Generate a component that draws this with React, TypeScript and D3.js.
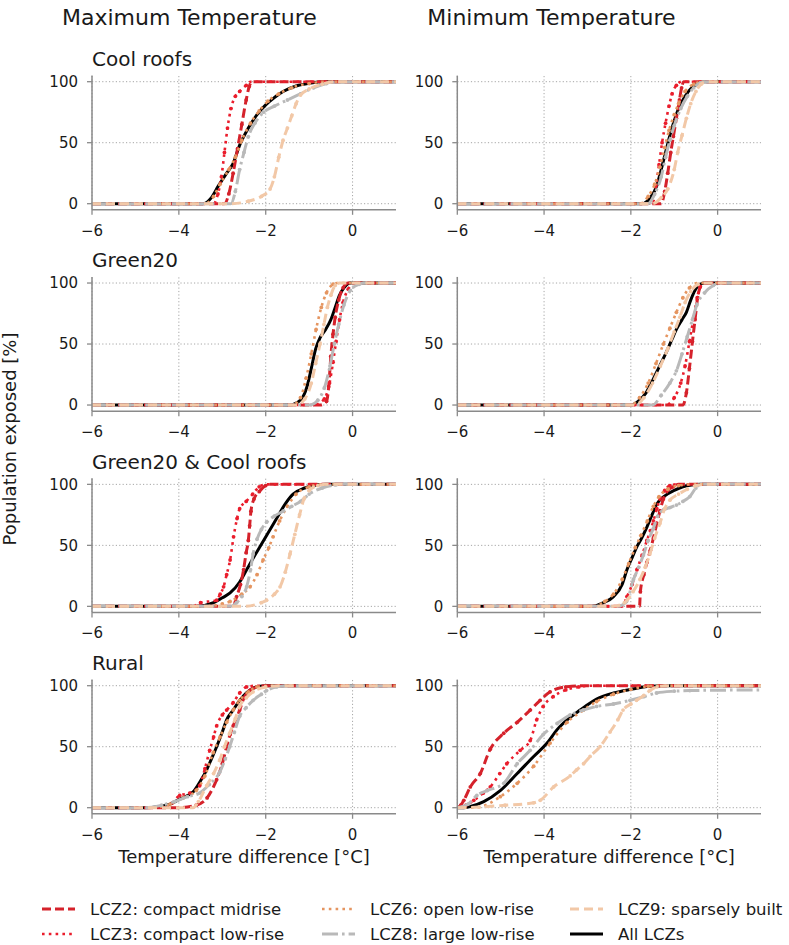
import React, { useEffect, useRef } from "react";
import * as d3 from "d3";

type Pt = [number, number];

// scenario rows and temperature columns
const scenarios = ["Cool roofs", "Green20", "Green20 & Cool roofs", "Rural"];
const columns = ["Maximum Temperature", "Minimum Temperature"];
const xTicks = [-6, -4, -2, 0];
const yTicks = [0, 50, 100];

const seriesKeys = ["all", "lcz2", "lcz3", "lcz6", "lcz8", "lcz9"];
const seriesLabels: Record<string, string> = {
  lcz2: "LCZ2: compact midrise",
  lcz3: "LCZ3: compact low-rise",
  lcz6: "LCZ6: open low-rise",
  lcz8: "LCZ8: large low-rise",
  lcz9: "LCZ9: sparsely built",
  all: "All LCZs",
};
const legendOrder = ["lcz2", "lcz3", "lcz6", "lcz8", "lcz9", "all"];

// cumulative population exposed [%] vs temperature difference [°C]
const coolMax: Record<string, Pt[]> = {
  all: [[-6, 0], [-3.45, 0], [-3.25, 5], [-3.1, 14], [-2.9, 25], [-2.75, 33], [-2.6, 48], [-2.4, 62], [-2.2, 73], [-2.0, 81], [-1.8, 87], [-1.6, 92], [-1.3, 96.5], [-1.0, 98.8], [-0.6, 100], [1, 100]],
  lcz2: [[-6, 0], [-2.95, 0], [-2.85, 8], [-2.75, 25], [-2.65, 45], [-2.55, 65], [-2.45, 85], [-2.38, 96], [-2.32, 100], [1, 100]],
  lcz3: [[-6, 0], [-3.2, 0], [-3.1, 8], [-3.02, 22], [-2.95, 42], [-2.88, 62], [-2.8, 78], [-2.7, 88], [-2.6, 92], [-2.45, 97], [-2.35, 100], [1, 100]],
  lcz6: [[-6, 0], [-3.4, 0], [-3.2, 6], [-3.05, 16], [-2.85, 28], [-2.7, 38], [-2.55, 52], [-2.35, 66], [-2.15, 76], [-1.95, 84], [-1.7, 90], [-1.4, 95], [-1.0, 98.5], [-0.6, 100], [1, 100]],
  lcz8: [[-6, 0], [-2.8, 0], [-2.7, 10], [-2.6, 28], [-2.5, 42], [-2.4, 55], [-2.25, 66], [-2.05, 75], [-1.8, 80], [-1.5, 85], [-1.2, 90], [-0.9, 95], [-0.6, 98.5], [-0.3, 100], [1, 100]],
  lcz9: [[-6, 0], [-2.8, 0], [-2.4, 2], [-2.1, 6], [-1.9, 12], [-1.8, 22], [-1.7, 38], [-1.6, 52], [-1.5, 62], [-1.4, 72], [-1.3, 82], [-1.2, 89], [-1.0, 94], [-0.7, 98], [-0.4, 100], [1, 100]],
};

const coolMin: Record<string, Pt[]> = {
  all: [[-6, 0], [-1.75, 0], [-1.55, 5], [-1.4, 15], [-1.3, 28], [-1.2, 42], [-1.1, 56], [-1.0, 68], [-0.9, 78], [-0.75, 88], [-0.6, 95], [-0.4, 99], [-0.3, 100], [1, 100]],
  lcz2: [[-6, 0], [-1.3, 0], [-1.22, 10], [-1.15, 25], [-1.08, 42], [-1.02, 55], [-0.95, 70], [-0.88, 85], [-0.83, 95], [-0.78, 100], [1, 100]],
  lcz3: [[-6, 0], [-1.5, 0], [-1.42, 15], [-1.35, 32], [-1.28, 50], [-1.2, 66], [-1.12, 80], [-1.05, 90], [-0.95, 97], [-0.82, 100], [1, 100]],
  lcz6: [[-6, 0], [-1.8, 0], [-1.6, 6], [-1.45, 16], [-1.33, 30], [-1.22, 46], [-1.12, 60], [-1.0, 73], [-0.9, 82], [-0.75, 92], [-0.55, 98], [-0.35, 100], [1, 100]],
  lcz8: [[-6, 0], [-1.6, 0], [-1.45, 8], [-1.3, 22], [-1.2, 38], [-1.1, 52], [-1.0, 64], [-0.85, 78], [-0.7, 88], [-0.55, 95], [-0.4, 99], [-0.3, 100], [1, 100]],
  lcz9: [[-6, 0], [-1.5, 0], [-1.3, 5], [-1.15, 12], [-1.0, 28], [-0.92, 42], [-0.82, 56], [-0.72, 70], [-0.62, 82], [-0.5, 92], [-0.38, 98], [-0.25, 100], [1, 100]],
};

const greenMax: Record<string, Pt[]> = {
  all: [[-6, 0], [-1.45, 0], [-1.2, 4], [-1.05, 15], [-0.95, 30], [-0.85, 46], [-0.75, 55], [-0.62, 62], [-0.5, 70], [-0.4, 80], [-0.3, 90], [-0.2, 96], [-0.05, 100], [1, 100]],
  lcz2: [[-6, 0], [-0.75, 0], [-0.6, 3], [-0.55, 15], [-0.5, 40], [-0.45, 58], [-0.4, 72], [-0.32, 86], [-0.22, 96], [-0.1, 100], [1, 100]],
  lcz3: [[-6, 0], [-0.9, 0], [-0.65, 5], [-0.53, 18], [-0.45, 35], [-0.38, 52], [-0.3, 70], [-0.22, 84], [-0.1, 95], [0.05, 100], [1, 100]],
  lcz6: [[-6, 0], [-1.4, 0], [-1.2, 6], [-1.07, 22], [-0.95, 42], [-0.84, 62], [-0.72, 80], [-0.6, 92], [-0.45, 99], [-0.35, 100], [1, 100]],
  lcz8: [[-6, 0], [-1.0, 0], [-0.8, 4], [-0.65, 14], [-0.52, 32], [-0.42, 50], [-0.32, 66], [-0.2, 82], [-0.05, 94], [0.15, 99], [0.3, 100], [1, 100]],
  lcz9: [[-6, 0], [-1.3, 0], [-1.1, 5], [-0.95, 18], [-0.85, 34], [-0.75, 50], [-0.66, 66], [-0.58, 80], [-0.5, 90], [-0.4, 98], [-0.3, 100], [1, 100]],
};

const greenMin: Record<string, Pt[]> = {
  all: [[-6, 0], [-2.0, 0], [-1.8, 4], [-1.65, 10], [-1.5, 20], [-1.35, 31], [-1.2, 42], [-1.05, 54], [-0.95, 62], [-0.82, 70], [-0.72, 76], [-0.62, 86], [-0.52, 94], [-0.4, 99], [-0.3, 100], [1, 100]],
  lcz2: [[-6, 0], [-0.8, 0], [-0.72, 10], [-0.65, 30], [-0.58, 52], [-0.52, 70], [-0.46, 88], [-0.4, 97], [-0.35, 100], [1, 100]],
  lcz3: [[-6, 0], [-1.2, 0], [-1.0, 6], [-0.85, 18], [-0.75, 32], [-0.65, 52], [-0.55, 72], [-0.47, 88], [-0.4, 97], [-0.3, 100], [1, 100]],
  lcz6: [[-6, 0], [-2.0, 0], [-1.8, 6], [-1.6, 18], [-1.42, 34], [-1.25, 50], [-1.1, 63], [-0.95, 76], [-0.8, 88], [-0.65, 96], [-0.45, 100], [1, 100]],
  lcz8: [[-6, 0], [-1.5, 0], [-1.3, 8], [-1.1, 18], [-0.95, 28], [-0.82, 42], [-0.7, 56], [-0.58, 70], [-0.48, 82], [-0.3, 92], [-0.1, 98], [0.1, 100], [1, 100]],
  lcz9: [[-6, 0], [-1.9, 0], [-1.7, 6], [-1.5, 18], [-1.32, 32], [-1.15, 46], [-1.0, 60], [-0.87, 72], [-0.75, 84], [-0.62, 93], [-0.45, 99], [-0.3, 100], [1, 100]],
};

const bothMax: Record<string, Pt[]> = {
  all: [[-6, 0], [-3.6, 0], [-3.2, 3], [-3.0, 7], [-2.82, 11], [-2.6, 20], [-2.44, 30], [-2.28, 40], [-2.13, 49], [-1.95, 60], [-1.75, 72], [-1.55, 84], [-1.37, 92], [-1.1, 97], [-0.84, 99.5], [-0.6, 100], [1, 100]],
  lcz2: [[-6, 0], [-2.75, 0], [-2.67, 8], [-2.58, 18], [-2.51, 30], [-2.45, 44], [-2.4, 54], [-2.37, 66], [-2.34, 78], [-2.27, 88], [-2.15, 94], [-2.0, 99], [-1.9, 100], [1, 100]],
  lcz3: [[-6, 0], [-3.7, 0], [-3.5, 3], [-3.13, 5], [-3.05, 10], [-2.97, 16], [-2.9, 26], [-2.82, 38], [-2.74, 57], [-2.66, 72], [-2.6, 80], [-2.45, 86], [-2.3, 92], [-2.15, 98], [-2.0, 100], [1, 100]],
  lcz6: [[-6, 0], [-3.4, 0], [-3.0, 2], [-2.82, 4], [-2.55, 10], [-2.36, 16], [-2.2, 26], [-2.06, 38], [-1.93, 48], [-1.83, 57], [-1.68, 70], [-1.5, 82], [-1.3, 92], [-1.0, 98], [-0.7, 100], [1, 100]],
  lcz8: [[-6, 0], [-2.8, 0], [-2.67, 3], [-2.55, 8], [-2.44, 16], [-2.35, 30], [-2.29, 43], [-2.2, 55], [-2.1, 63], [-1.98, 69], [-1.8, 74], [-1.6, 78], [-1.4, 82], [-1.2, 86], [-1.0, 92], [-0.7, 97], [-0.4, 99.5], [-0.2, 100], [1, 100]],
  lcz9: [[-6, 0], [-2.5, 0], [-2.1, 3], [-1.98, 5], [-1.8, 10], [-1.67, 16], [-1.55, 28], [-1.44, 43], [-1.33, 59], [-1.22, 75], [-1.12, 88], [-1.0, 95], [-0.8, 99], [-0.6, 100], [1, 100]],
};

const bothMin: Record<string, Pt[]> = {
  all: [[-6, 0], [-2.9, 0], [-2.63, 3], [-2.4, 8], [-2.2, 18], [-2.09, 30], [-1.97, 40], [-1.86, 49], [-1.75, 56], [-1.63, 65], [-1.5, 76], [-1.4, 84], [-1.2, 91], [-1.0, 95], [-0.8, 98], [-0.6, 99.5], [-0.4, 100], [1, 100]],
  lcz2: [[-6, 0], [-1.8, 0], [-1.78, 12], [-1.7, 26], [-1.63, 36], [-1.55, 46], [-1.48, 56], [-1.4, 68], [-1.33, 78], [-1.25, 88], [-1.15, 95], [-1.02, 98], [-0.9, 100], [1, 100]],
  lcz3: [[-6, 0], [-2.2, 0], [-2.09, 8], [-1.97, 18], [-1.86, 30], [-1.74, 42], [-1.63, 54], [-1.55, 62], [-1.48, 70], [-1.4, 80], [-1.33, 88], [-1.22, 95], [-1.1, 99], [-0.95, 100], [1, 100]],
  lcz6: [[-6, 0], [-2.9, 0], [-2.6, 4], [-2.4, 10], [-2.2, 22], [-2.05, 35], [-1.9, 48], [-1.77, 58], [-1.62, 70], [-1.48, 82], [-1.35, 90], [-1.15, 96], [-0.9, 99], [-0.6, 100], [1, 100]],
  lcz8: [[-6, 0], [-2.3, 0], [-2.1, 4], [-1.94, 22], [-1.82, 32], [-1.71, 42], [-1.6, 54], [-1.48, 64], [-1.38, 74], [-1.25, 79], [-1.1, 81], [-0.95, 83], [-0.8, 86], [-0.64, 90], [-0.5, 97], [-0.4, 100], [1, 100]],
  lcz9: [[-6, 0], [-2.4, 0], [-2.15, 3], [-1.95, 12], [-1.79, 22], [-1.67, 32], [-1.56, 43], [-1.45, 56], [-1.33, 68], [-1.22, 80], [-1.1, 87], [-0.9, 92], [-0.7, 96], [-0.5, 99], [-0.3, 100], [1, 100]],
};

const ruralMax: Record<string, Pt[]> = {
  all: [[-6, 0], [-4.8, 0], [-4.44, 1], [-4.2, 3], [-3.98, 7], [-3.8, 10], [-3.67, 13], [-3.5, 22], [-3.36, 31], [-3.25, 40], [-3.13, 50], [-3.0, 62], [-2.9, 72], [-2.75, 80], [-2.6, 88], [-2.45, 94], [-2.29, 98], [-2.0, 100], [1, 100]],
  lcz2: [[-6, 0], [-4.0, 0], [-3.6, 2], [-3.35, 8], [-3.13, 23], [-3.0, 36], [-2.9, 50], [-2.82, 60], [-2.75, 67], [-2.6, 80], [-2.5, 90], [-2.37, 96], [-2.2, 99], [-2.0, 100], [1, 100]],
  lcz3: [[-6, 0], [-4.3, 0], [-4.15, 4], [-3.98, 10], [-3.75, 12], [-3.52, 18], [-3.4, 32], [-3.29, 47], [-3.2, 58], [-3.13, 67], [-3.0, 76], [-2.9, 80], [-2.75, 86], [-2.6, 94], [-2.44, 99], [-2.2, 100], [1, 100]],
  lcz6: [[-6, 0], [-4.6, 0], [-4.2, 3], [-3.9, 8], [-3.6, 14], [-3.4, 26], [-3.21, 45], [-3.05, 58], [-2.9, 70], [-2.75, 80], [-2.6, 88], [-2.4, 95], [-2.2, 99], [-1.9, 100], [1, 100]],
  lcz8: [[-6, 0], [-4.8, 0], [-4.4, 2], [-4.1, 5], [-3.8, 9], [-3.52, 12], [-3.3, 19], [-3.06, 29], [-2.93, 40], [-2.83, 50], [-2.72, 62], [-2.6, 75], [-2.45, 82], [-2.29, 88], [-2.1, 93], [-1.98, 96], [-1.75, 99], [-1.5, 100], [1, 100]],
  lcz9: [[-6, 0], [-3.67, 0], [-3.55, 5], [-3.36, 18], [-3.2, 28], [-3.06, 39], [-2.95, 50], [-2.83, 61], [-2.7, 73], [-2.6, 83], [-2.45, 90], [-2.29, 95], [-2.0, 99], [-1.7, 100], [1, 100]],
};

const ruralMin: Record<string, Pt[]> = {
  all: [[-6, 0], [-5.85, 0], [-5.7, 1], [-5.39, 5], [-5.01, 14], [-4.62, 28], [-4.24, 42], [-3.93, 53], [-3.7, 64], [-3.47, 72], [-3.17, 80], [-2.79, 89], [-2.4, 94], [-2.0, 97], [-1.56, 99.5], [-1.2, 100], [1, 100]],
  lcz2: [[-6, 0], [-5.92, 2], [-5.85, 6], [-5.7, 17], [-5.47, 28], [-5.24, 48], [-4.93, 61], [-4.62, 70], [-4.32, 80], [-4.09, 88], [-3.86, 95], [-3.5, 99], [-3.0, 100], [1, 100]],
  lcz3: [[-6, 0], [-5.8, 2], [-5.62, 6], [-5.4, 12], [-5.24, 17], [-5.02, 28], [-4.86, 36], [-4.55, 47], [-4.32, 55], [-4.17, 72], [-4.02, 83], [-3.79, 91], [-3.5, 96.5], [-3.2, 99], [-2.9, 100], [1, 100]],
  lcz6: [[-6, 0], [-5.6, 0], [-5.01, 9], [-4.62, 20], [-4.24, 34], [-3.86, 53], [-3.47, 70], [-3.09, 80], [-2.79, 87], [-2.4, 93], [-2.0, 97], [-1.6, 99.5], [-1.3, 100], [1, 100]],
  lcz8: [[-6, 0], [-5.75, 3], [-5.55, 10], [-5.31, 14], [-4.93, 20], [-4.62, 36], [-4.32, 47], [-4.02, 60], [-3.7, 69], [-3.4, 76], [-3.1, 80], [-2.79, 83], [-2.4, 85], [-2.02, 88], [-1.7, 91], [-1.41, 94], [-1.0, 95.5], [-0.64, 96], [1, 96.5]],
  lcz9: [[-6, 0], [-5.5, 0.5], [-4.9, 2], [-4.24, 4], [-4.09, 6], [-3.78, 17], [-3.4, 26], [-3.25, 31], [-3.09, 36], [-2.94, 42], [-2.71, 50], [-2.48, 62], [-2.3, 72], [-2.18, 80], [-2.0, 85], [-1.87, 88], [-1.7, 92], [-1.56, 96], [-1.4, 99], [-1.2, 100], [1, 100]],
};

const panels = [
  [coolMax, coolMin],
  [greenMax, greenMin],
  [bothMax, bothMin],
  [ruralMax, ruralMin],
];

// line styles per series
const styles: Record<string, { color: string; dash: string | null; width: number; dots: boolean }> = {
  all: { color: "#000000", dash: null, width: 3, dots: false },
  lcz2: { color: "#d5222b", dash: "9 4", width: 3, dots: true },
  lcz3: { color: "#ea1d2c", dash: "2.6 4.2", width: 2.6, dots: true },
  lcz6: { color: "#e59560", dash: "2.6 4.2", width: 2.6, dots: true },
  lcz8: { color: "#b9b9b9", dash: "16 4 2.6 4", width: 3, dots: true },
  lcz9: { color: "#f2c8a7", dash: "9 5", width: 3, dots: true },
};

const FONT = "'DejaVu Sans', sans-serif";

export default function App() {
  const ref = useRef<SVGSVGElement | null>(null);

  useEffect(() => {
    const svg = d3.select(ref.current);
    svg.selectAll("*").remove();

    const colLeft = [92, 457.3];
    const colRight = [396, 761];
    const rowTop = (r: number) => 75.6 + r * 201.33;
    const panelH = 134.2;

    // column headers
    columns.forEach((c, i) => {
      svg.append("text")
        .attr("x", colLeft[i] - 30)
        .attr("y", 25)
        .style("font-size", "22px")
        .style("font-family", FONT)
        .style("fill", "#1a1a1a")
        .text(c);
    });

    const line = d3.line<Pt>();

    panels.forEach((row, r) => {
      row.forEach((data, c) => {
        const x = d3.scaleLinear().domain([-6, 1]).range([colLeft[c], colRight[c]]);
        const y = d3.scaleLinear().domain([-5, 105]).range([rowTop(r) + panelH, rowTop(r)]);
        const g = svg.append("g");

        if (c === 0) {
          g.append("text")
            .attr("x", colLeft[c])
            .attr("y", y(100) - 15.7)
            .style("font-size", "20px")
            .style("font-family", FONT)
            .style("fill", "#1a1a1a")
            .text(scenarios[r]);
        }

        // dotted grid
        const grid = g.append("g")
          .attr("stroke", "#a6a6a6")
          .attr("stroke-width", 1)
          .attr("stroke-dasharray", "1.2 2.2");
        xTicks.forEach((t) => {
          grid.append("line")
            .attr("x1", x(t)).attr("x2", x(t))
            .attr("y1", y(-5)).attr("y2", y(105));
        });
        yTicks.forEach((t) => {
          grid.append("line")
            .attr("x1", x(-6)).attr("x2", x(1))
            .attr("y1", y(t)).attr("y2", y(t));
        });

        const clipId = `clip-${r}-${c}`;
        g.append("clipPath").attr("id", clipId)
          .append("rect")
          .attr("x", x(-6)).attr("y", y(105) - 3)
          .attr("width", x(1) - x(-6)).attr("height", y(-5) - y(105) + 3);

        const plot = g.append("g").attr("clip-path", `url(#${clipId})`);
        line.x((d) => x(d[0])).y((d) => y(d[1])).curve(d3.curveMonotoneX);

        seriesKeys.forEach((k) => {
          const s = styles[k];
          const pts = data[k];
          plot.append("path")
            .attr("d", line(pts))
            .attr("fill", "none")
            .attr("stroke", s.color)
            .attr("stroke-width", s.width)
            .attr("stroke-dasharray", s.dash)
            .attr("stroke-linejoin", "round");
          if (s.dots) {
            plot.append("g")
              .selectAll("circle")
              .data(pts.slice(1, -1).filter((d) => d[1] > 0 && d[1] < 100))
              .enter()
              .append("circle")
              .attr("cx", (d) => x(d[0]))
              .attr("cy", (d) => y(d[1]))
              .attr("r", 1.9)
              .attr("fill", s.color);
          }
        });

        // spines and ticks
        const axisColor = "#8a8a8a";
        g.append("line")
          .attr("x1", x(-6)).attr("x2", x(-6))
          .attr("y1", y(105)).attr("y2", y(-5))
          .attr("stroke", axisColor).attr("stroke-width", 1.5);
        g.append("line")
          .attr("x1", x(-6)).attr("x2", x(1))
          .attr("y1", y(-5)).attr("y2", y(-5))
          .attr("stroke", axisColor).attr("stroke-width", 1.5);

        xTicks.forEach((t) => {
          g.append("line")
            .attr("x1", x(t)).attr("x2", x(t))
            .attr("y1", y(-5)).attr("y2", y(-5) + 5)
            .attr("stroke", axisColor).attr("stroke-width", 1.3);
          g.append("text")
            .attr("x", x(t))
            .attr("y", y(-5) + 26)
            .attr("text-anchor", "middle")
            .style("font-size", "15px")
            .style("font-family", FONT)
            .style("fill", "#1a1a1a")
            .text(t < 0 ? "\u2212" + Math.abs(t) : String(t));
        });
        yTicks.forEach((t) => {
          g.append("line")
            .attr("x1", x(-6) - 5).attr("x2", x(-6))
            .attr("y1", y(t)).attr("y2", y(t))
            .attr("stroke", axisColor).attr("stroke-width", 1.3);
          g.append("text")
            .attr("x", x(-6) - 14)
            .attr("y", y(t))
            .attr("dy", "0.36em")
            .attr("text-anchor", "end")
            .style("font-size", "15px")
            .style("font-family", FONT)
            .style("fill", "#1a1a1a")
            .text(String(t));
        });

        if (r === panels.length - 1) {
          svg.append("text")
            .attr("x", (colLeft[c] + colRight[c]) / 2)
            .attr("y", y(-5) + 49)
            .attr("text-anchor", "middle")
            .style("font-size", "18px")
            .style("font-family", FONT)
            .style("fill", "#1a1a1a")
            .text("Temperature difference [°C]");
        }
      });
    });

    // shared y label
    svg.append("text")
      .attr("transform", "translate(16,439) rotate(-90)")
      .attr("text-anchor", "middle")
      .style("font-size", "18px")
      .style("font-family", FONT)
      .style("fill", "#1a1a1a")
      .text("Population exposed [%]");

    // legend, two rows filled column by column
    const legX = [42, 322, 570];
    const legY = [909, 934];
    legendOrder.forEach((k, i) => {
      const s = styles[k];
      const cx = legX[Math.floor(i / 2)];
      const cy = legY[i % 2];
      svg.append("line")
        .attr("x1", cx).attr("x2", cx + 33)
        .attr("y1", cy).attr("y2", cy)
        .attr("stroke", s.color)
        .attr("stroke-width", s.width)
        .attr("stroke-dasharray", s.dash);
      svg.append("text")
        .attr("x", cx + 48)
        .attr("y", cy)
        .attr("dy", "0.36em")
        .style("font-size", "16.5px")
        .style("font-family", FONT)
        .style("fill", "#1a1a1a")
        .text(seriesLabels[k]);
    });
  }, []);

  return (
    <svg
      ref={ref}
      width={789}
      height={945}
      style={{ position: "absolute", left: 0, top: 0, background: "#fff" }}
    />
  );
}
